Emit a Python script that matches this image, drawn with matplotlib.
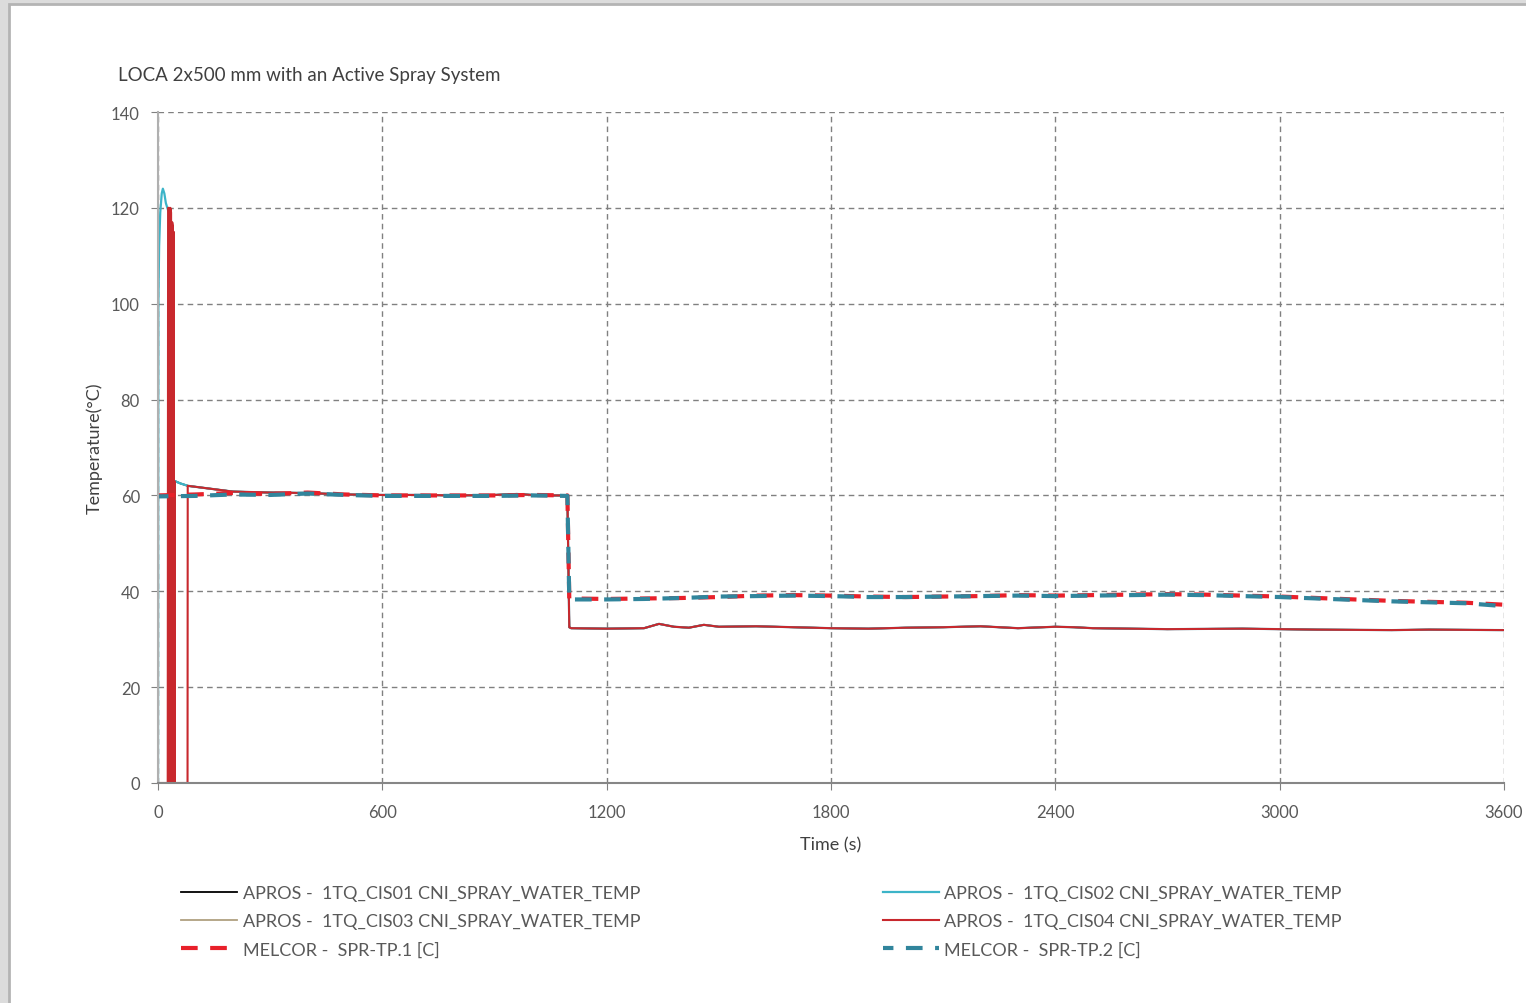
import matplotlib.pyplot as plt
from matplotlib.patches import Rectangle

# APROS spray water temperatures (common part after the initial spike)
t_common = [80, 100, 150, 200, 300, 400, 500, 600, 700, 800, 900, 960, 1000, 1050, 1095,
            1100, 1105, 1200, 1300, 1340, 1380, 1420, 1460, 1500, 1600, 1700, 1800, 1900,
            2000, 2100, 2200, 2300, 2400, 2450, 2500, 2700, 2900, 3100, 3300, 3400, 3600]
v_common = [62.0, 61.8, 61.3, 60.8, 60.6, 60.5, 60.2, 60.1, 60.1, 60.0, 60.1, 60.3, 60.1, 60.0, 60.0,
            32.5, 32.3, 32.2, 32.3, 33.2, 32.6, 32.4, 33.0, 32.6, 32.7, 32.5, 32.3, 32.2,
            32.4, 32.5, 32.7, 32.3, 32.6, 32.5, 32.3, 32.1, 32.2, 32.0, 31.9, 32.0, 31.9]

# initial parts of each APROS curve
t_cis01 = [0, 44, 45, 60]
v_cis01 = [0, 0, 63, 62.5]
t_cis03 = [0, 44, 45, 60]
v_cis03 = [0, 0, 63, 62.5]
t_cis02 = [0, 1, 3, 6, 10, 13, 17, 21, 25, 29, 30, 44, 45, 60]
v_cis02 = [0, 100, 112, 119, 123, 124, 123, 121, 120, 119, 0, 0, 63, 62.5]
t_cis04 = [0, 26, 27, 30, 31, 32, 33, 35, 36, 37, 38, 40, 41, 42, 43, 44, 45, 79, 79.5]
v_cis04 = [0, 0, 120, 120, 0, 0, 120, 119, 0, 0, 117, 116, 0, 115, 0, 63, 0, 0, 62]

# MELCOR results
t_melcor = [0, 100, 200, 300, 400, 500, 600, 700, 800, 900, 1000, 1095, 1100, 1200, 1300,
            1400, 1500, 1600, 1700, 1800, 1900, 2000, 2100, 2200, 2300, 2400, 2500, 2600,
            2700, 2800, 2900, 3000, 3100, 3200, 3300, 3400, 3500, 3600]
v_melcor1 = [60, 60.2, 60.5, 60.3, 60.6, 60.2, 60.0, 60.0, 60.0, 60.0, 60.1, 60.0, 38.5, 38.4, 38.5,
             38.6, 38.8, 39.1, 39.2, 39.1, 38.9, 38.8, 38.9, 39.0, 39.2, 39.1, 39.2, 39.3,
             39.4, 39.3, 39.1, 38.9, 38.6, 38.3, 38.0, 37.8, 37.6, 37.2]
v_melcor2 = [59.8, 59.9, 60.2, 60.1, 60.4, 60.1, 59.9, 59.9, 59.9, 59.9, 60.0, 59.9, 38.3, 38.3, 38.4,
             38.6, 38.9, 39.0, 39.1, 39.0, 38.8, 38.8, 38.9, 39.0, 39.1, 39.0, 39.1, 39.2,
             39.3, 39.2, 39.0, 38.8, 38.5, 38.2, 37.9, 37.7, 37.5, 36.9]

labels = ["APROS -  1TQ_CIS01 CNI_SPRAY_WATER_TEMP",
          "APROS -  1TQ_CIS02 CNI_SPRAY_WATER_TEMP",
          "APROS -  1TQ_CIS03 CNI_SPRAY_WATER_TEMP",
          "APROS -  1TQ_CIS04 CNI_SPRAY_WATER_TEMP",
          "MELCOR -  SPR-TP.1 [C]",
          "MELCOR -  SPR-TP.2 [C]"]

plt.rcParams['font.family'] = ['Lato', 'DejaVu Sans']

fig = plt.figure(figsize=(15.26, 10.04), dpi=100)
fig.patch.set_facecolor('#dcdcdc')
fig.patches.append(Rectangle((9 / 1526, -0.05), 1.1, 1.05 - 5 / 1004, transform=fig.transFigure,
                             facecolor='white', edgecolor='#b4b4b4', lw=2, zorder=-10))

ax = fig.add_axes([158 / 1526, 1 - 784 / 1004, (1504 - 158) / 1526, (784 - 113) / 1004])
ax.set_facecolor('none')

l1, = ax.plot(t_cis01 + t_common, v_cis01 + v_common, color='black', lw=1.3)
l3, = ax.plot(t_cis03 + t_common, v_cis03 + v_common, color='#b0a080', lw=1.3)
l2, = ax.plot(t_cis02 + t_common, v_cis02 + v_common, color='#3cb4c8', lw=1.6)
l4, = ax.plot(t_cis04 + t_common, v_cis04 + v_common, color='#c8282d', lw=1.5)
m1, = ax.plot(t_melcor, v_melcor1, color='#e8202a', lw=3, linestyle=(0, (4, 3)))
m2, = ax.plot(t_melcor, v_melcor2, color='#31859c', lw=3, linestyle=(1.5, (4, 3)))

ax.set_xlim(0, 3600)
ax.set_ylim(0, 140)
ax.set_xticks(range(0, 3601, 600))
ax.set_yticks(range(0, 141, 20))
ax.grid(True, color='#808080', lw=1, dashes=(4, 3))
ax.tick_params(axis='both', colors='#808080', labelcolor='#595959', labelsize=12, length=5)
ax.tick_params(axis='x', pad=10)
ax.tick_params(axis='y', pad=8)
for side in ['top', 'right']:
    ax.spines[side].set_visible(False)
ax.spines['left'].set_color('#b0b0b0')
ax.spines['bottom'].set_color('#868686')
ax.spines['left'].set_linewidth(1.5)
ax.spines['bottom'].set_linewidth(1.5)

ax.set_xlabel("Time (s)", fontsize=13, color='#404040', labelpad=12)
ax.set_ylabel("Temperature(°C)", fontsize=13, color='#404040', labelpad=6)

fig.text(118 / 1526, 1 - 75 / 1004, "LOCA 2x500 mm with an Active Spray System",
         fontsize=13.5, color='#404040', va='center')

fig.legend([l1, l3, m1, l2, l4, m2],
           [labels[0], labels[2], labels[4], labels[1], labels[3], labels[5]],
           ncol=2, loc='upper left', bbox_to_anchor=(165 / 1526, 1 - 870 / 1004),
           frameon=False, fontsize=13, labelcolor='#595959', handlelength=3.1,
           handletextpad=0.3, columnspacing=13.45, labelspacing=0.66)

fig.savefig("out.png", dpi=100, facecolor=fig.get_facecolor())
